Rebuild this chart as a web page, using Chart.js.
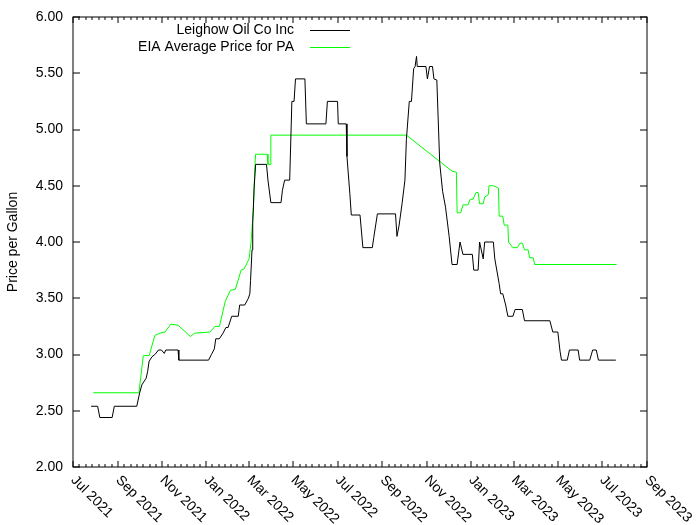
<!DOCTYPE html>
<html>
<head>
<meta charset="utf-8">
<script src="https://cdn.jsdelivr.net/npm/chart.js@4.4.0/dist/chart.umd.min.js"></script>
<style>
  html, body { margin: 0; padding: 0; background: #fff; }
</style>
</head>
<body>
<canvas id="chart" width="700" height="525"></canvas>
<script>
const leighowDates = [
  '2021-07-26','2021-08-04','2021-08-07','2021-08-24','2021-08-27','2021-09-27',
  '2021-10-01','2021-10-04','2021-10-10','2021-10-12','2021-10-14','2021-10-18','2021-10-22','2021-10-27','2021-10-31','2021-11-04','2021-11-06','2021-11-23','2021-11-24',
  '2022-01-04','2022-01-08','2022-01-12','2022-01-14','2022-01-19','2022-01-24','2022-01-28','2022-01-31','2022-02-05','2022-02-14','2022-02-16','2022-02-23','2022-02-28',
  '2022-03-02','2022-03-03','2022-03-05','2022-03-06','2022-03-08','2022-03-10','2022-03-25','2022-03-27','2022-03-31','2022-04-14','2022-04-16','2022-04-19','2022-04-26','2022-04-29',
  '2022-05-02','2022-05-04','2022-05-17','2022-05-19','2022-06-15','2022-06-17','2022-07-01','2022-07-02','2022-07-13','2022-07-14','2022-07-18','2022-07-20',
  '2022-08-01','2022-08-05','2022-08-18','2022-08-20','2022-08-25','2022-09-19','2022-09-21','2022-09-24','2022-09-28','2022-10-02','2022-10-04','2022-10-08','2022-10-11',
  '2022-10-14','2022-10-16','2022-10-18','2022-10-19','2022-10-31','2022-11-02','2022-11-05','2022-11-09','2022-11-11','2022-11-15','2022-11-19','2022-11-23','2022-11-27',
  '2022-12-02','2022-12-06','2022-12-13','2022-12-17','2022-12-21',
  '2023-01-03','2023-01-05','2023-01-11','2023-01-13','2023-01-18','2023-01-20','2023-02-01','2023-02-03','2023-02-09','2023-02-11','2023-02-14','2023-02-18','2023-02-21',
  '2023-02-28','2023-03-03','2023-03-13','2023-03-16','2023-04-20','2023-04-24','2023-05-01','2023-05-04','2023-05-06','2023-05-14','2023-05-17','2023-05-29','2023-05-31',
  '2023-06-14','2023-06-18','2023-06-23','2023-06-26','2023-07-20'
];
const leighowPrices = [
  2.54, 2.54, 2.44, 2.44, 2.54, 2.54,
  2.66, 2.73, 2.79, 2.85, 2.94, 2.98, 3.00, 3.04, 3.04, 3.01, 3.04, 3.04, 2.95,
  2.95, 3.00, 3.05, 3.14, 3.14, 3.19, 3.24, 3.24, 3.34, 3.34, 3.44, 3.44, 3.50,
  3.54, 3.66, 3.93, 4.17, 4.49, 4.69, 4.69, 4.55, 4.35, 4.35, 4.46, 4.55, 4.55, 5.25,
  5.25, 5.45, 5.45, 5.05, 5.05, 5.25, 5.25, 5.05, 5.05, 4.76, 4.43, 4.24,
  4.24, 3.95, 3.95, 4.04, 4.25, 4.25, 4.05, 4.15, 4.34, 4.55, 4.91, 5.25, 5.25,
  5.54, 5.56, 5.65, 5.56, 5.56, 5.45, 5.56, 5.56, 5.45, 5.44, 4.70, 4.45, 4.31,
  4.05, 3.80, 3.80, 4.00, 3.89,
  3.89, 3.75, 3.75, 4.00, 3.85, 4.00, 4.00, 3.85, 3.63, 3.54, 3.54, 3.44, 3.34,
  3.34, 3.40, 3.40, 3.30, 3.30, 3.20, 3.20, 3.03, 2.95, 2.95, 3.04, 3.04, 2.95,
  2.95, 3.04, 3.04, 2.95, 2.95
];

const eiaDates = [
  '2021-07-29','2021-09-30','2021-10-06','2021-10-14','2021-10-22','2021-10-29','2021-11-05','2021-11-13','2021-11-23','2021-12-10','2021-12-16',
  '2022-01-06','2022-01-13','2022-01-19','2022-01-27','2022-02-03','2022-02-10','2022-02-18','2022-02-22','2022-03-01','2022-03-04','2022-03-07',
  '2022-03-09','2022-03-10','2022-03-26','2022-03-27','2022-03-30','2022-03-31','2022-10-04','2022-12-06','2022-12-12','2022-12-13','2022-12-18',
  '2022-12-21','2022-12-28','2022-12-31',
  '2023-01-04','2023-01-08','2023-01-11','2023-01-13','2023-01-18','2023-01-20','2023-01-25','2023-01-26','2023-02-01','2023-02-08','2023-02-09',
  '2023-02-14','2023-02-16','2023-02-21','2023-02-22','2023-02-28','2023-03-06','2023-03-10','2023-03-13','2023-03-16','2023-03-21','2023-03-23',
  '2023-03-28','2023-03-30','2023-07-21'
];
const eiaPrices = [
  2.66, 2.66, 2.99, 2.99, 3.17, 3.19, 3.20, 3.27, 3.26, 3.16, 3.19,
  3.20, 3.25, 3.25, 3.47, 3.57, 3.58, 3.75, 3.76, 3.85, 4.02, 4.31,
  4.68, 4.78, 4.78, 4.69, 4.69, 4.95, 4.95, 4.63, 4.62, 4.26, 4.26,
  4.33, 4.33, 4.38,
  4.38, 4.44, 4.44, 4.34, 4.34, 4.40, 4.42, 4.50, 4.50, 4.48, 4.23,
  4.23, 4.15, 4.15, 4.00, 3.95, 3.95, 3.99, 3.99, 3.93, 3.93, 3.86,
  3.86, 3.80, 3.80
];

const xTickDates = ['2021-07-01','2021-09-01','2021-11-01','2022-01-01','2022-03-01','2022-05-01','2022-07-01',
  '2022-09-01','2022-11-01','2023-01-01','2023-03-01','2023-05-01','2023-07-01','2023-09-01'];
const yTickValues = [2.0, 2.5, 3.0, 3.5, 4.0, 4.5, 5.0, 5.5, 6.0];
const monthNames = ['Jan','Feb','Mar','Apr','May','Jun','Jul','Aug','Sep','Oct','Nov','Dec'];

const font = '14px "Liberation Sans", Arial, sans-serif';

const toPoints = (dates, prices) => dates.map((d, i) => ({x: Date.parse(d), y: prices[i]}));

const labelFor = v => {
  const d = new Date(v);
  return monthNames[d.getUTCMonth()] + ' ' + d.getUTCFullYear();
};

// gnuplot style frame, ticks, labels and legend
const gnuFrame = {
  id: 'gnuFrame',
  afterDraw(chart) {
    const {ctx, chartArea: a, scales: {x, y}} = chart;
    ctx.save();
    ctx.strokeStyle = '#000';
    ctx.lineWidth = 1;
    ctx.strokeRect(a.left, a.top, a.right - a.left, a.bottom - a.top);

    ctx.beginPath();
    y.ticks.forEach(t => {
      const py = Math.round(y.getPixelForValue(t.value));
      ctx.moveTo(a.left, py); ctx.lineTo(a.left + 7, py);
      ctx.moveTo(a.right, py); ctx.lineTo(a.right - 7, py);
    });
    const px = x.ticks.map(t => x.getPixelForValue(t.value));
    px.forEach((p, i) => {
      const xp = Math.round(p);
      ctx.moveTo(xp, a.bottom); ctx.lineTo(xp, a.bottom - 6);
      ctx.moveTo(xp, a.top); ctx.lineTo(xp, a.top + 6);
      if (i < px.length - 1) {
        const step = (px[i + 1] - p) / 7;
        for (let k = 1; k < 7; k++) {
          const mp = Math.round(p + k * step);
          ctx.moveTo(mp, a.bottom); ctx.lineTo(mp, a.bottom - 3);
          ctx.moveTo(mp, a.top); ctx.lineTo(mp, a.top + 3);
        }
      }
    });
    ctx.stroke();

    ctx.fillStyle = '#000';
    ctx.font = font;
    ctx.textAlign = 'right';
    ctx.textBaseline = 'middle';
    y.ticks.forEach(t => {
      ctx.fillText(t.value.toFixed(2), a.left - 10, y.getPixelForValue(t.value));
    });

    ctx.textAlign = 'left';
    x.ticks.forEach(t => {
      ctx.save();
      ctx.translate(x.getPixelForValue(t.value), a.bottom + 11);
      ctx.rotate(Math.PI / 4);
      ctx.fillText(labelFor(t.value), 0, 0);
      ctx.restore();
    });

    ctx.save();
    ctx.translate(13, (a.top + a.bottom) / 2);
    ctx.rotate(-Math.PI / 2);
    ctx.textAlign = 'center';
    ctx.fillText('Price per Gallon', 0, 0);
    ctx.restore();

    // legend
    chart.data.datasets.forEach((ds, i) => {
      const ly = 30 + i * 17;
      ctx.textAlign = 'right';
      ctx.fillText(ds.label, 294, ly);
      ctx.strokeStyle = ds.borderColor;
      ctx.beginPath();
      ctx.moveTo(310, ly + 0.5);
      ctx.lineTo(350, ly + 0.5);
      ctx.stroke();
    });
    ctx.restore();
  }
};

new Chart(document.getElementById('chart'), {
  type: 'line',
  data: {
    datasets: [{
      label: 'Leighow Oil Co Inc',
      data: toPoints(leighowDates, leighowPrices),
      borderColor: '#000000',
      borderWidth: 1,
      pointRadius: 0,
      fill: false
    }, {
      label: 'EIA Average Price for PA',
      data: toPoints(eiaDates, eiaPrices),
      borderColor: '#00ff00',
      borderWidth: 1,
      pointRadius: 0,
      fill: false
    }]
  },
  options: {
    responsive: false,
    animation: false,
    layout: { padding: { left: 73, right: 53, top: 17, bottom: 58 } },
    plugins: { legend: { display: false }, tooltip: { enabled: false } },
    scales: {
      x: {
        type: 'linear',
        display: false,
        min: Date.parse(xTickDates[0]),
        max: Date.parse(xTickDates[xTickDates.length - 1]),
        ticks: { autoSkip: false },
        afterBuildTicks: s => { s.ticks = xTickDates.map(d => ({value: Date.parse(d)})); }
      },
      y: {
        display: false,
        min: 2,
        max: 6,
        ticks: { autoSkip: false },
        afterBuildTicks: s => { s.ticks = yTickValues.map(v => ({value: v})); }
      }
    }
  },
  plugins: [gnuFrame]
});
</script>
</body>
</html>
